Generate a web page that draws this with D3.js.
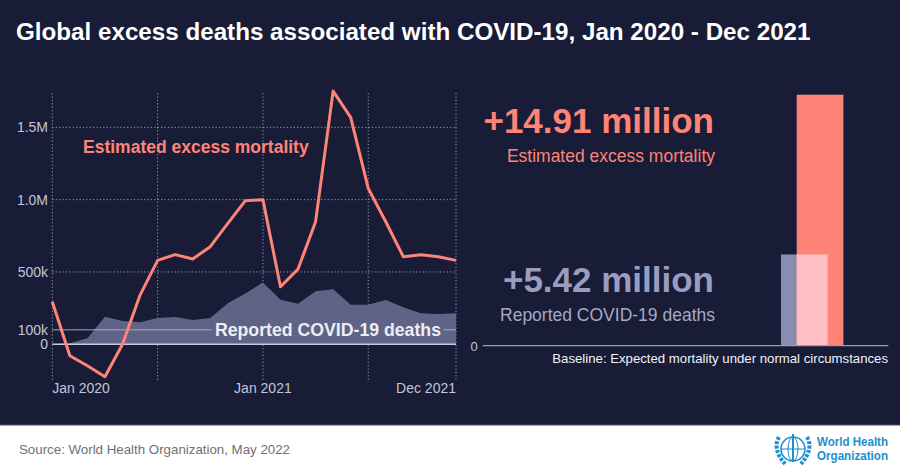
<!DOCTYPE html>
<html>
<head>
<meta charset="utf-8">
<script src="https://cdn.jsdelivr.net/npm/d3@7"></script>
<style>
  body { margin: 0; background: #fff; }
  svg { display: block; font-family: "Liberation Sans", Arial, sans-serif; }
</style>
</head>
<body>
<div id="chart"></div>
<script>
// monthly values, millions
var months = ["2020-01","2020-02","2020-03","2020-04","2020-05","2020-06","2020-07","2020-08","2020-09","2020-10","2020-11","2020-12",
              "2021-01","2021-02","2021-03","2021-04","2021-05","2021-06","2021-07","2021-08","2021-09","2021-10","2021-11","2021-12"];
var excess = [0.294,-0.079,-0.148,-0.224,0.0,0.34,0.58,0.62,0.59,0.675,0.836,0.993,
              1.0,0.398,0.52,0.847,1.75,1.569,1.078,0.847,0.605,0.619,0.605,0.58];
var reported = [0.0,0.007,0.041,0.191,0.161,0.152,0.182,0.189,0.168,0.182,0.283,0.352,
                0.428,0.308,0.281,0.366,0.38,0.274,0.274,0.306,0.256,0.214,0.21,0.214];
var yTicks = [0, 0.1, 0.5, 1.0, 1.5];
var yTickLabels = ["0", "100k", "500k", "1.0M", "1.5M"];
var gridMonths = ["2020-01","2020-07","2021-01","2021-07","2021-12"];
var xLabels = [["2020-01","Jan 2020","start"],["2021-01","Jan 2021","middle"],["2021-12","Dec 2021","end"]];
var totals = [{key: "reported", value: 5.42}, {key: "excess", value: 14.91}];

var W = 900, H = 472;
var bg = "#181c36", red = "#ff8478", lav = "#8a8db0", areaCol = "#5f6385";

var svg = d3.select("#chart").append("svg")
  .attr("width", W)
  .attr("height", H);

svg.append("rect").attr("width", W).attr("height", 425).attr("fill", bg);
svg.append("line").attr("x1", 0).attr("x2", W).attr("y1", 425).attr("y2", 425)
  .attr("stroke", "#4a4f70").attr("stroke-width", 1.2);

svg.append("text")
  .attr("x", 16).attr("y", 40)
  .attr("fill", "#fff")
  .attr("font-size", 24.2).attr("font-weight", "bold")
  .text("Global excess deaths associated with COVID-19, Jan 2020 - Dec 2021");

// ---- left: monthly line chart
var x = d3.scalePoint().domain(months).range([52.3, 456]);
var y = d3.scaleLinear().domain([0, 1.5]).range([344.3, 127.3]);

var left = svg.append("g");

// dotted grid
left.selectAll(".vgrid")
  .data(gridMonths)
  .enter().append("line")
  .attr("x1", function(d) { return x(d); })
  .attr("x2", function(d) { return x(d); })
  .attr("y1", 93).attr("y2", 381)
  .attr("stroke", "#9a9db8").attr("stroke-width", 1)
  .attr("stroke-dasharray", "1.2,2.2");

left.selectAll(".hgrid")
  .data([0.5, 1.0, 1.5])
  .enter().append("line")
  .attr("x1", 52.3).attr("x2", 456)
  .attr("y1", function(d) { return y(d); })
  .attr("y2", function(d) { return y(d); })
  .attr("stroke", "#9a9db8").attr("stroke-width", 1)
  .attr("stroke-dasharray", "1.2,2.2");

// reported deaths area
var area = d3.area()
  .x(function(d, i) { return x(months[i]); })
  .y0(y(0))
  .y1(function(d) { return y(d); });

left.append("path")
  .datum(reported)
  .attr("d", area)
  .attr("fill", areaCol);

// 100k and 0 lines
left.append("line")
  .attr("x1", 52.3).attr("x2", 456)
  .attr("y1", y(0.1)).attr("y2", y(0.1))
  .attr("stroke", "#a4a7c6").attr("stroke-width", 1);

left.append("line")
  .attr("x1", 52.3).attr("x2", 456)
  .attr("y1", y(0)).attr("y2", y(0))
  .attr("stroke", "#c9cce0").attr("stroke-width", 1.5);

// label box hides the 100k line behind the text
left.append("rect")
  .attr("x", 212).attr("y", y(0.1) - 10)
  .attr("width", 231).attr("height", 20)
  .attr("fill", areaCol);

left.append("text")
  .attr("x", 441).attr("y", y(0.1) + 6)
  .attr("text-anchor", "end")
  .attr("fill", "#eceef6")
  .attr("font-size", 17.7).attr("font-weight", "bold")
  .text("Reported COVID-19 deaths");

// excess mortality line
var line = d3.line()
  .x(function(d, i) { return x(months[i]); })
  .y(function(d) { return y(d); });

left.append("path")
  .datum(excess)
  .attr("d", line)
  .attr("fill", "none")
  .attr("stroke", red)
  .attr("stroke-width", 3)
  .attr("stroke-linejoin", "round");

left.append("text")
  .attr("x", 83).attr("y", 153)
  .attr("fill", red)
  .attr("font-size", 17.5).attr("font-weight", "bold")
  .text("Estimated excess mortality");

// y tick labels
left.selectAll(".ylab")
  .data(yTicks)
  .enter().append("text")
  .attr("x", 48)
  .attr("y", function(d) { return y(d) + 5; })
  .attr("text-anchor", "end")
  .attr("fill", "#c3c6d8")
  .attr("font-size", 14)
  .text(function(d, i) { return yTickLabels[i]; });

// x labels
left.selectAll(".xlab")
  .data(xLabels)
  .enter().append("text")
  .attr("x", function(d) { return x(d[0]); })
  .attr("y", 393)
  .attr("text-anchor", function(d) { return d[2]; })
  .attr("fill", "#c3c6d8")
  .attr("font-size", 14)
  .text(function(d) { return d[1]; });

// ---- right: cumulative bars
var yb = d3.scaleLinear().domain([0, 15]).range([345.7, 93.2]);
var barX = {reported: 781, excess: 796.7};
var barW = 46.7;
var right = svg.append("g");

right.selectAll(".bar")
  .data(totals)
  .enter().append("rect")
  .attr("x", function(d) { return barX[d.key]; })
  .attr("y", function(d) { return yb(d.value); })
  .attr("width", barW)
  .attr("height", function(d) { return yb(0) - yb(d.value); })
  .attr("fill", function(d) { return d.key == "excess" ? red : lav; });

// overlap of the two bars
var ov = d3.min(totals, function(d) { return d.value; });
right.append("rect")
  .attr("x", barX.excess)
  .attr("y", yb(ov))
  .attr("width", barX.reported + barW - barX.excess)
  .attr("height", yb(0) - yb(ov))
  .attr("fill", "#ffbdc4");

right.append("line")
  .attr("x1", 482.7).attr("x2", 888.3)
  .attr("y1", yb(0)).attr("y2", yb(0))
  .attr("stroke", "#9a9db8").attr("stroke-width", 1.2);

right.append("text")
  .attr("x", 474).attr("y", yb(0) + 5)
  .attr("text-anchor", "middle")
  .attr("fill", "#c3c6d8").attr("font-size", 13)
  .text("0");

right.append("text")
  .attr("x", 888).attr("y", 363)
  .attr("text-anchor", "end")
  .attr("fill", "#f2f3f8").attr("font-size", 13.2)
  .text("Baseline: Expected mortality under normal circumstances");

right.append("text")
  .attr("x", 714).attr("y", 133)
  .attr("text-anchor", "end")
  .attr("fill", red).attr("font-size", 35).attr("font-weight", "bold")
  .text("+" + totals[1].value.toFixed(2) + " million");

right.append("text")
  .attr("x", 715).attr("y", 162)
  .attr("text-anchor", "end")
  .attr("fill", red).attr("font-size", 17.5)
  .text("Estimated excess mortality");

right.append("text")
  .attr("x", 714).attr("y", 292)
  .attr("text-anchor", "end")
  .attr("fill", "#9a9dc0").attr("font-size", 35).attr("font-weight", "bold")
  .text("+" + totals[0].value.toFixed(2) + " million");

right.append("text")
  .attr("x", 715).attr("y", 321)
  .attr("text-anchor", "end")
  .attr("fill", "#a6a9c6").attr("font-size", 17.5)
  .text("Reported COVID-19 deaths");

// ---- footer
svg.append("text")
  .attr("x", 19).attr("y", 454)
  .attr("fill", "#707070").attr("font-size", 13.3)
  .text("Source: World Health Organization, May 2022");

var blue = "#1b8fd0";
var logo = svg.append("g").attr("transform", "translate(793,449)");
logo.append("circle").attr("r", 12).attr("fill", "none").attr("stroke", blue).attr("stroke-width", 1.6);
logo.append("ellipse").attr("rx", 5).attr("ry", 12).attr("fill", "none").attr("stroke", blue).attr("stroke-width", 1);
logo.append("line").attr("x1", -12).attr("x2", 12).attr("stroke", blue).attr("stroke-width", 1);
logo.append("line").attr("y1", -15).attr("y2", 13).attr("stroke", blue).attr("stroke-width", 2);
[-1, 1].forEach(function(s) {
  logo.append("path")
    .attr("d", "M" + (s * 14) + ",-12 Q" + (s * 21) + ",0 " + (s * 8) + ",15")
    .attr("fill", "none").attr("stroke", blue).attr("stroke-width", 4)
    .attr("stroke-dasharray", "3,1.5");
});
svg.append("text")
  .attr("x", 817).attr("y", 445.5)
  .attr("fill", blue).attr("font-size", 12.5).attr("font-weight", "bold")
  .attr("textLength", 71).attr("lengthAdjust", "spacingAndGlyphs")
  .text("World Health");
svg.append("text")
  .attr("x", 817).attr("y", 460)
  .attr("fill", blue).attr("font-size", 12.5).attr("font-weight", "bold")
  .attr("textLength", 71).attr("lengthAdjust", "spacingAndGlyphs")
  .text("Organization");
</script>
</body>
</html>
